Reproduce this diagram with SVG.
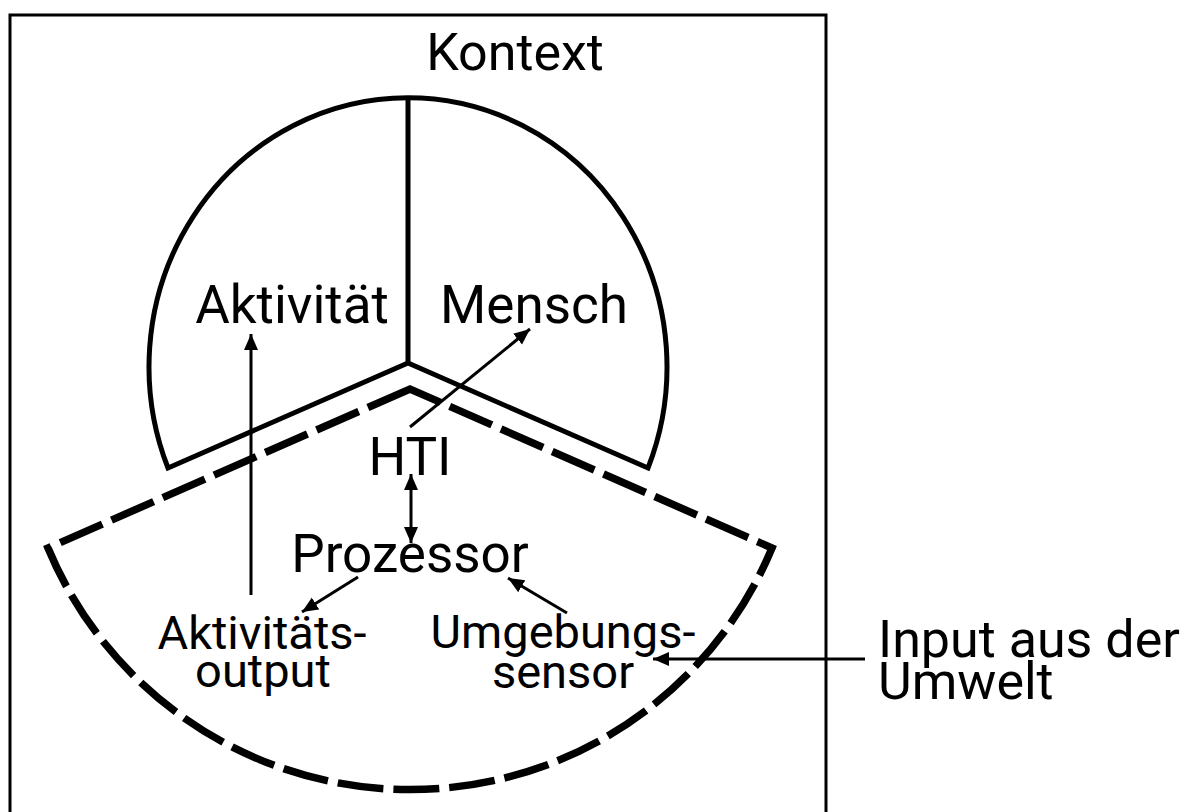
<svg xmlns="http://www.w3.org/2000/svg" width="1194" height="812" viewBox="0 0 1194 812">
<style>
  .lbl { font-family: Roboto, "Liberation Sans", sans-serif; fill: #000; }
  .big { font-size: 53px; }
  .mid { font-size: 52px; }
  .sm { font-size: 47px; }
  .solid { fill: none; stroke: #000; stroke-width: 5; stroke-linejoin: miter; }
  .dash { fill: none; stroke: #000; stroke-width: 7.5; stroke-dasharray: 46 10; stroke-linejoin: miter; }
  .conn { fill: none; stroke: #000; stroke-width: 3; }
</style>
<defs>
  <marker id="ah" markerUnits="userSpaceOnUse" markerWidth="18" markerHeight="16" refX="16" refY="7" orient="auto-start-reverse">
    <path d="M0,0 L16,7 L0,14 Z" fill="#000"/>
  </marker>
</defs>
<rect width="1194" height="812" fill="#fff"/>
<g id="kontext">
  <rect x="10" y="15" width="816" height="830" fill="none" stroke="#000" stroke-width="3"/>
  <text class="lbl mid" x="515" y="70" text-anchor="middle">Kontext</text>
</g>
<g id="mensch-aktivitaet">
  <path class="solid" d="M168,468 A259,269 0 1 1 648,468 L408,363 Z"/>
  <line class="solid" x1="408" y1="98" x2="408" y2="363"/>
  <text class="lbl big" x="292" y="323" text-anchor="middle">Aktivität</text>
  <text class="lbl big" x="534" y="323" text-anchor="middle">Mensch</text>
</g>
<g id="system">
  <path class="dash" d="M410,389 L48,548 A392,392 0 0 0 772,548 Z"/>
</g>
<g id="hti"><text class="lbl big" x="410" y="475" text-anchor="middle">HTI</text></g>
<g id="prozessor"><text class="lbl big" x="410" y="572" text-anchor="middle">Prozessor</text></g>
<g id="aktivitaetsoutput">
  <text class="lbl sm" x="262" y="649" text-anchor="middle">Aktivitäts-</text>
  <text class="lbl sm" x="263" y="687" text-anchor="middle">output</text>
</g>
<g id="umgebungssensor">
  <text class="lbl sm" x="563" y="648" text-anchor="middle">Umgebungs-</text>
  <text class="lbl sm" x="563" y="688" text-anchor="middle">sensor</text>
</g>
<g id="input">
  <text class="lbl mid" x="878" y="657">Input aus der</text>
  <text class="lbl mid" x="878" y="699">Umwelt</text>
</g>
<g id="connectors">
  <line class="conn" x1="251" y1="595" x2="251" y2="334" marker-end="url(#ah)"/>
  <line class="conn" x1="410" y1="427" x2="530" y2="329" marker-end="url(#ah)"/>
  <line class="conn" x1="411" y1="474" x2="411" y2="543" marker-start="url(#ah)" marker-end="url(#ah)"/>
  <line class="conn" x1="358" y1="577" x2="302" y2="612" marker-end="url(#ah)"/>
  <line class="conn" x1="567" y1="613" x2="508" y2="578" marker-end="url(#ah)"/>
  <line class="conn" x1="865" y1="659" x2="653" y2="659" marker-end="url(#ah)"/>
</g>
</svg>
